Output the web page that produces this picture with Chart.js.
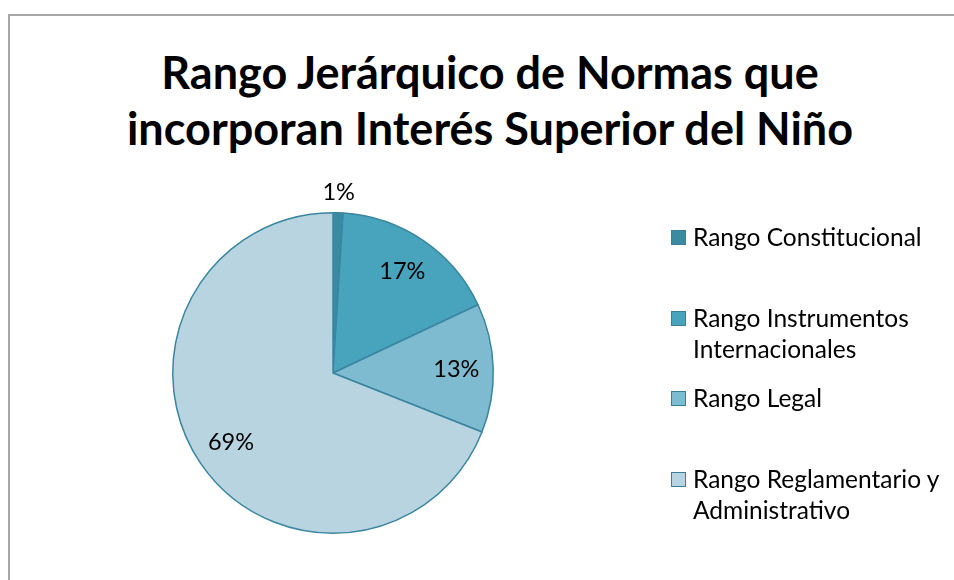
<!DOCTYPE html>
<html>
<head>
<meta charset="utf-8">
<script src="https://cdn.jsdelivr.net/npm/chart.js@4.4.0/dist/chart.umd.min.js"></script>
<style>
  html, body { margin: 0; padding: 0; background: #fff; overflow: hidden; }
  #wrap { position: relative; width: 954px; height: 580px; font-family: Lato, "Open Sans", sans-serif; }
  #marco { position: absolute; left: 8px; top: 14px; width: 1000px; height: 1000px; border: 2px solid #a6a6a6; }
  #titulo { position: absolute; left: 0; top: 44px; width: 980px; text-align: center; font-weight: bold; font-size: 45px; line-height: 56px; color: #000; }
  #grafico { position: absolute; left: 0; top: 0; }
  .leyenda-item { position: absolute; left: 671px; font-size: 24.5px; line-height: 31px; color: #000; }
  .leyenda-caja { position: absolute; left: 0; top: 8px; width: 13px; height: 13px; border: 1px solid #3a7f96; }
  .leyenda-texto { position: absolute; left: 22px; top: -1px; white-space: nowrap; }
</style>
</head>
<body>
<div id="wrap">
  <div id="marco"></div>
  <div id="titulo">Rango Jerárquico de Normas que<br>incorporan Interés Superior del Niño</div>
  <canvas id="grafico" width="954" height="580"></canvas>
  <div id="leyenda"></div>
</div>
<script>
const categorias = [
    ['Rango Constitucional'],
    ['Rango Instrumentos', 'Internacionales'],
    ['Rango Legal'],
    ['Rango Reglamentario y', 'Administrativo']
];
const porcentajes = [1, 17, 13, 69];
const colores = ['#3a8ba1', '#48a3bd', '#7ebad0', '#b7d4e0'];

// leyenda en HTML, una fila cada 80px como en el original
const leyenda = document.getElementById('leyenda');
categorias.forEach((lineas, i) => {
    const item = document.createElement('div');
    item.className = 'leyenda-item';
    item.style.top = (222 + i * 80.7) + 'px';
    item.innerHTML = `<div class="leyenda-caja" style="background:${colores[i]}"></div><div class="leyenda-texto">${lineas.join('<br>')}</div>`;
    leyenda.appendChild(item);
});

const etiquetasPlugin = {
    id: 'etiquetas',
    afterDatasetsDraw(chart) {
        const { ctx } = chart;
        const meta = chart.getDatasetMeta(0);
        ctx.save();
        ctx.font = '23.5px Lato, "Open Sans", sans-serif';
        ctx.fillStyle = '#000';
        ctx.textAlign = 'center';
        ctx.textBaseline = 'middle';
        meta.data.forEach((arc, i) => {
            const { x, y, startAngle, endAngle, outerRadius } = arc.getProps(['x', 'y', 'startAngle', 'endAngle', 'outerRadius'], true);
            const medio = (startAngle + endAngle) / 2;
            const dist = porcentajes[i] < 5 ? outerRadius + 20 : outerRadius * 0.77;
            ctx.fillText(porcentajes[i] + '%', x + Math.cos(medio) * dist, y + Math.sin(medio) * dist);
        });
        ctx.restore();
    }
};

new Chart(document.getElementById('grafico'), {
    type: 'pie',
    data: {
        labels: categorias.map(l => l.join(' ')),
        datasets: [{
            data: porcentajes,
            backgroundColor: colores,
            borderColor: '#3a86a0',
            borderWidth: 1.5
        }]
    },
    options: {
        responsive: false,
        animation: false,
        layout: { padding: { left: 172, right: 460, top: 212, bottom: 46 } },
        plugins: { legend: { display: false }, tooltip: { enabled: false } }
    },
    plugins: [etiquetasPlugin]
});
</script>
</body>
</html>
